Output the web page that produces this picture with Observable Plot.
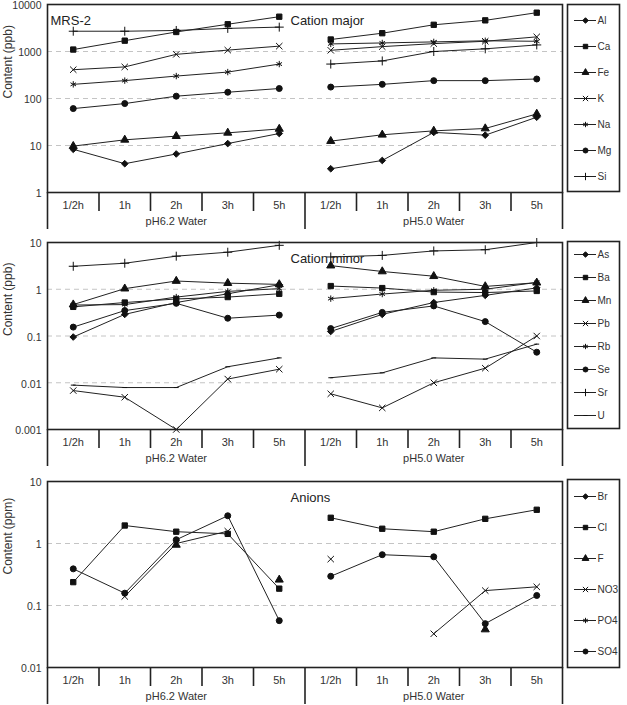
<!DOCTYPE html>
<html>
<head>
<meta charset="utf-8">
<script src="https://cdn.jsdelivr.net/npm/d3@7"></script>
<script src="https://cdn.jsdelivr.net/npm/@observablehq/plot@0.6"></script>
<style>
  html, body { margin: 0; padding: 0; background: #fff; }
  #chart { position: relative; width: 627px; height: 705px; overflow: hidden; }
  #chart > svg { position: absolute; }
  #chart text.ylabel { letter-spacing: 0.6px; }
</style>
</head>
<body>
<div id="chart"></div>
<script>
// Sampling times and leaching waters (x axis)
const times = ["1/2h", "1h", "2h", "3h", "5h"];
const groups = ["pH6.2 Water", "pH5.0 Water"];

// Cation major (ppb)
const majorNames = ["Al", "Ca", "Fe", "K", "Na", "Mg", "Si"];
const majorPH62 = [
  [8.3, 4.1, 6.6, 11, 18],
  [1100, 1700, 2600, 3800, 5500],
  [9.7, 13.2, 15.8, 18.6, 22.5],
  [410, 470, 870, 1070, 1300],
  [200, 240, 300, 365, 540],
  [61, 78, 112, 136, 163],
  [2700, 2700, 2800, 3100, 3300]
];
const majorPH50 = [
  [3.2, 4.8, 19, 16.6, 40],
  [1800, 2450, 3700, 4600, 6700],
  [12.4, 16.9, 20.5, 23, 47],
  [1060, 1270, 1470, 1650, 2050],
  [1450, 1520, 1600, 1690, 1650],
  [175, 200, 240, 240, 260],
  [540, 630, 1000, 1140, 1380]
];

// Cation minor (ppb)
const minorNames = ["As", "Ba", "Mn", "Pb", "Rb", "Se", "Sr", "U"];
const minorPH62 = [
  [0.095, 0.29, 0.52, 0.80, 1.25],
  [0.42, 0.52, 0.62, 0.68, 0.80],
  [0.47, 1.03, 1.5, 1.35, 1.27],
  [0.0068, 0.0049, 0.001, 0.012, 0.0195],
  [0.46, 0.47, 0.68, 0.90, 1.03],
  [0.155, 0.35, 0.50, 0.24, 0.28],
  [3.1, 3.6, 5.1, 6.2, 8.7],
  [0.0089, 0.0079, 0.0079, 0.022, 0.034]
];
const minorPH50 = [
  [0.125, 0.29, 0.52, 0.74, 1.07],
  [1.17, 1.06, 0.87, 0.85, 0.92],
  [3.2, 2.4, 1.9, 1.15, 1.38],
  [0.0058, 0.0029, 0.010, 0.0205, 0.1],
  [0.63, 0.79, 0.95, 1.0, 1.4],
  [0.144, 0.32, 0.44, 0.203, 0.045],
  [4.9, 5.3, 6.6, 7.0, 10],
  [0.0128, 0.0163, 0.034, 0.032, 0.067]
];

// Anions (ppm); null = not detected
const anionNames = ["Br", "Cl", "F", "NO3", "PO4", "SO4"];
const anionPH62 = [
  [null, null, null, null, null],
  [0.238, 1.95, 1.55, 1.43, 0.187],
  [null, null, 0.95, null, 0.26],
  [null, 0.14, 1.0, 1.58, null],
  [null, null, null, null, null],
  [0.39, 0.158, 1.15, 2.8, 0.057]
];
const anionPH50 = [
  [null, null, null, null, null],
  [2.6, 1.73, 1.55, 2.5, 3.5],
  [null, null, null, 0.041, null],
  [0.56, null, 0.035, 0.174, 0.2],
  [null, null, null, null, null],
  [0.296, 0.66, 0.61, 0.051, 0.145]
];

// Marker shapes per element
const dash = {
  draw(ctx, size) {
    const r = Math.sqrt(size) / 2.2;
    ctx.moveTo(-r, 0);
    ctx.lineTo(r, 0);
  }
};
const symbolOf = {
  Al: d3.symbolDiamond2, Ca: d3.symbolSquare, Fe: d3.symbolTriangle, K: d3.symbolTimes,
  Na: d3.symbolAsterisk, Mg: d3.symbolCircle, Si: d3.symbolPlus,
  As: d3.symbolDiamond2, Ba: d3.symbolSquare, Mn: d3.symbolTriangle, Pb: d3.symbolTimes,
  Rb: d3.symbolAsterisk, Se: d3.symbolCircle, Sr: d3.symbolPlus, U: dash,
  Br: d3.symbolDiamond2, Cl: d3.symbolSquare, F: d3.symbolTriangle, NO3: d3.symbolTimes,
  PO4: d3.symbolAsterisk, SO4: d3.symbolCircle
};

const FONT = "'Liberation Sans', Arial, sans-serif";
const INK = "#222";
const fmt = d3.format("~g");
const chart = document.getElementById("chart");

function place(el, left, top) {
  el.style.left = left + "px";
  el.style.top = top + "px";
  chart.appendChild(el);
}

function panel({names, ph62, ph50, domain, label, title, tag, plotTop, plotHeight, boxTop, boxHeight}) {
  const data = [];
  names.forEach((s, i) => {
    [ph62, ph50].forEach((vals, g) => {
      vals[i].forEach((v, t) => data.push({
        series: s, group: groups[g], time: times[t], pos: g * 5 + t + 0.5, value: v
      }));
    });
  });
  const [lo, hi] = domain;
  const decades = d3.range(Math.round(Math.log10(lo)), Math.round(Math.log10(hi)) + 1)
    .map(p => +(10 ** p).toPrecision(1));
  const centers = d3.range(10).map(i => i + 0.5);

  const main = Plot.plot({
    width: 565,
    height: 4 + plotHeight + 40,
    marginTop: 4, marginBottom: 40, marginLeft: 47, marginRight: 3,
    style: {fontFamily: FONT, fontSize: "11px", background: "transparent", overflow: "visible", color: "#333"},
    x: {domain: [0, 10]},
    y: {type: "log", domain: [lo, hi]},
    marks: [
      Plot.ruleY(decades.slice(1, -1), {stroke: "#c4c4c4", strokeDasharray: "5,4"}),
      Plot.axisY({ticks: decades, tickSize: 0, tickPadding: 6, tickFormat: fmt, label: null, fontSize: 10.5, dy: 1.5}),
      Plot.axisX({ticks: [1, 2, 3, 4, 6, 7, 8, 9], tickSize: 19, tickFormat: () => "", label: null, stroke: INK, strokeWidth: 1.6}),
      Plot.axisX({ticks: [0, 5, 10], tickSize: 37, tickFormat: () => "", label: null, stroke: INK, strokeWidth: 1.6}),
      Plot.axisX({ticks: centers, tickSize: 0, tickPadding: 9, tickFormat: x => times[Math.floor(x) % 5], label: null, fontSize: 11}),
      Plot.axisX({ticks: [2.5, 7.5], tickSize: 0, tickPadding: 25, tickFormat: x => groups[Math.floor(x / 5)], label: null, fontSize: 11}),
      Plot.text([label], {frameAnchor: "left", dx: -39, rotate: -90, fontSize: 12, fill: "#333", className: "ylabel"}),
      Plot.line(data, {x: "pos", y: "value", z: d => d.series + "|" + d.group, stroke: INK, strokeWidth: 1}),
      Plot.dot(data, {x: "pos", y: "value", symbol: d => symbolOf[d.series], r: 3, fill: "#111", stroke: "#111", strokeWidth: 1}),
      tag ? Plot.text([tag], {frameAnchor: "top-left", dx: 3, dy: 11, textAnchor: "start", fontSize: 13, fill: "#222"}) : null,
      Plot.text([title], {frameAnchor: "top-left", dx: 243, dy: 11, textAnchor: "start", fontSize: 13, fill: "#222"}),
      Plot.frame({stroke: INK, strokeWidth: 1.6})
    ]
  });
  place(main, 0, plotTop - 4);

  const legend = Plot.plot({
    width: 54,
    height: boxHeight + 2,
    margin: 1,
    style: {fontFamily: FONT, fontSize: "10px", background: "transparent", overflow: "visible"},
    y: {type: "point", domain: names, padding: 0.5, axis: null},
    marks: [
      Plot.ruleY(names, {y: d => d, insetLeft: 7, insetRight: 23, stroke: INK, strokeWidth: 1}),
      Plot.dot(names, {y: d => d, frameAnchor: "left", dx: 18, symbol: d => symbolOf[d], r: 2.5, fill: "#111", stroke: "#111", strokeWidth: 1}),
      Plot.text(names, {y: d => d, text: d => d, frameAnchor: "left", dx: 30, textAnchor: "start", fontSize: 10, fill: "#333"}),
      Plot.frame({stroke: INK, strokeWidth: 1.6})
    ]
  });
  place(legend, 566, boxTop - 1);
}

panel({
  names: majorNames, ph62: majorPH62, ph50: majorPH50, domain: [1, 10000],
  label: "Content (ppb)", title: "Cation major", tag: "MRS-2",
  plotTop: 4, plotHeight: 188, boxTop: 4, boxHeight: 187
});
panel({
  names: minorNames, ph62: minorPH62, ph50: minorPH50, domain: [0.001, 10],
  label: "Content (ppb)", title: "Cation minor",
  plotTop: 242, plotHeight: 187, boxTop: 241, boxHeight: 187
});
panel({
  names: anionNames, ph62: anionPH62, ph50: anionPH50, domain: [0.01, 10],
  label: "Content (ppm)", title: "Anions",
  plotTop: 481, plotHeight: 186, boxTop: 479, boxHeight: 188
});
</script>
</body>
</html>
